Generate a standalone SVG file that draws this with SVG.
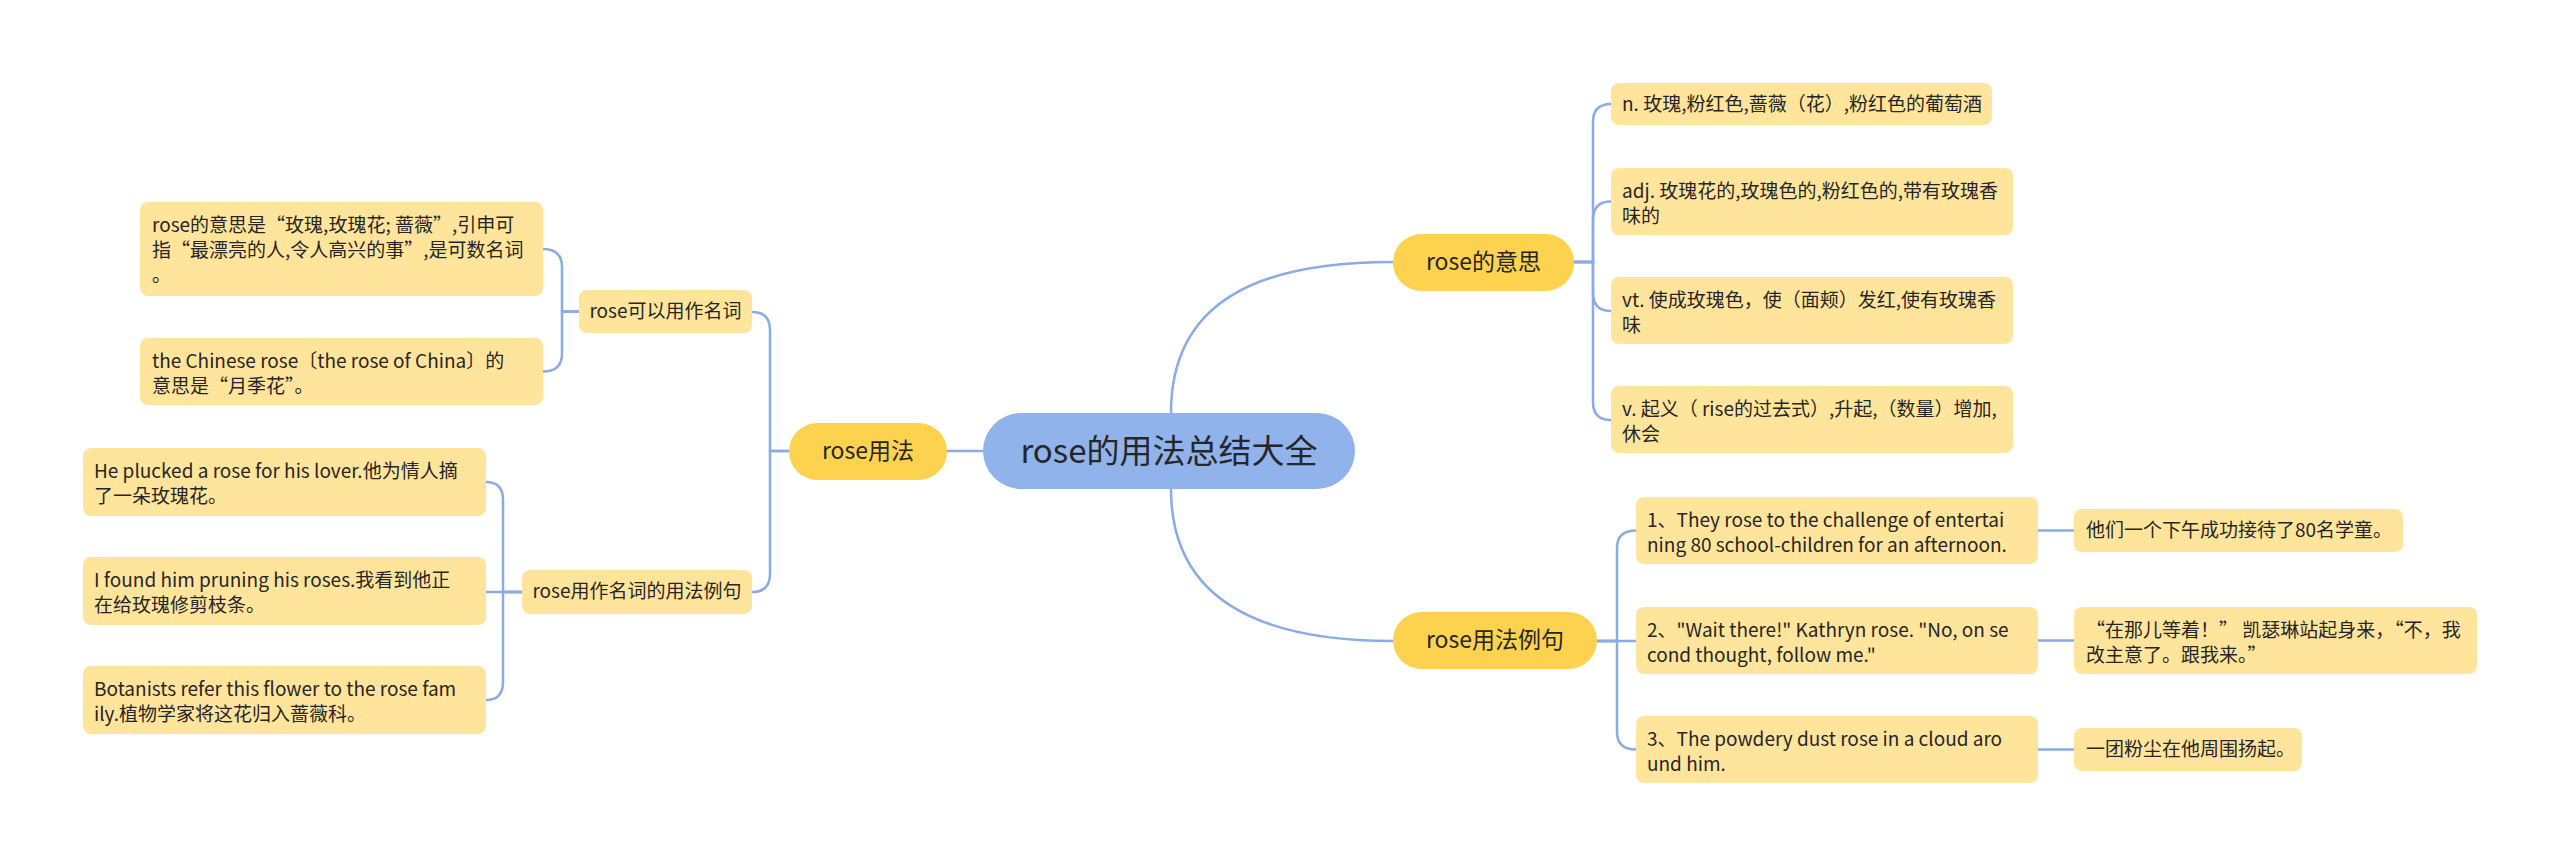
<svg xmlns="http://www.w3.org/2000/svg" width="2560" height="867" viewBox="0 0 2560 867">
<style>
text{font-family:"Noto Sans CJK SC","Noto Sans",sans-serif;fill:#262626}
.c{text-anchor:middle}
.root rect{fill:#90B3EB}
.main rect{fill:#FCD24F}
.leaf rect{fill:#FFE59B}
.t0{font-size:33px}
.t1{font-size:23px}
.t2{font-size:19px}
.lines path{fill:none;stroke:#8AACE3;stroke-width:2.5;stroke-linecap:round}
</style>
<rect width="2560" height="867" fill="#ffffff"/>
<g class="lines" id="connectors">
<path d="M1171,413 C1171,300 1260,262 1393,262"/>
<path d="M1171,489 C1171,600 1260,641 1393,641"/>
<path d="M983,451 H947"/>
<path d="M1574,262 H1593 V122 Q1593,104 1611,104"/>
<path d="M1574,262 H1593 V220 Q1593,201.5 1611,201.5"/>
<path d="M1574,262 H1593 V293 Q1593,311 1611,311"/>
<path d="M1574,262 H1593 V402 Q1593,420 1611,420"/>
<path d="M1597,641 H1617 V548 Q1617,530.5 1636,530.5"/>
<path d="M1597,641 H1636"/>
<path d="M1597,641 H1617 V732 Q1617,749.5 1636,749.5"/>
<path d="M2038,530.5 H2074"/>
<path d="M2038,640.5 H2074"/>
<path d="M2038,749.5 H2074"/>
<path d="M789,451 H770 V330 Q770,312 752,312"/>
<path d="M789,451 H770 V574 Q770,592 752,592"/>
<path d="M579,311.5 H562 V267 Q562,249 543,249"/>
<path d="M579,311.5 H562 V353.5 Q562,371.5 543,371.5"/>
<path d="M522,592 H503 V500 Q503,482 486,482"/>
<path d="M522,592 H486"/>
<path d="M522,592 H503 V682 Q503,700 486,700"/>
</g>
<g id="root" class="root"><rect x="983" y="413" width="372" height="76" rx="38"/><text class="t0 c" x="1169" y="463">rose的用法总结大全</text></g>
<g id="n-meaning" class="main"><rect x="1393" y="234" width="181" height="57" rx="28.5"/><text class="t1 c" x="1483.5" y="270">rose的意思</text></g>
<g id="n-examples" class="main"><rect x="1393" y="612" width="204" height="57" rx="28.5"/><text class="t1 c" x="1495" y="648">rose用法例句</text></g>
<g id="n-usage" class="main"><rect x="789" y="423" width="158" height="57" rx="28.5"/><text class="t1 c" x="868" y="459">rose用法</text></g>
<g id="n-noun" class="leaf"><rect x="579" y="290" width="173" height="43" rx="8"/><text class="t2 c" x="665.5" y="318">rose可以用作名词</text></g>
<g id="n-noun-ex" class="leaf"><rect x="522" y="570" width="230" height="44" rx="8"/><text class="t2 c" x="637" y="598">rose用作名词的用法例句</text></g>
<g id="m1" class="leaf"><rect x="1611" y="83" width="381" height="42" rx="8"/><text class="t2" x="1622" y="111">n. 玫瑰,粉红色,蔷薇（花）,粉红色的葡萄酒</text></g>
<g id="m2" class="leaf"><rect x="1611" y="168" width="402" height="67" rx="8"/><text class="t2" x="1622" y="198">adj. 玫瑰花的,玫瑰色的,粉红色的,带有玫瑰香<tspan x="1622" y="223">味的</tspan></text></g>
<g id="m3" class="leaf"><rect x="1611" y="277" width="402" height="67" rx="8"/><text class="t2" x="1622" y="307">vt. 使成玫瑰色，使（面颊）发红,使有玫瑰香<tspan x="1622" y="332">味</tspan></text></g>
<g id="m4" class="leaf"><rect x="1611" y="386" width="402" height="67" rx="8"/><text class="t2" x="1622" y="416">v. 起义（ rise的过去式）,升起,（数量）增加,<tspan x="1622" y="441">休会</tspan></text></g>
<g id="e1" class="leaf"><rect x="1636" y="497" width="402" height="67" rx="8"/><text class="t2" x="1647" y="527">1、They rose to the challenge of entertai<tspan x="1647" y="552">ning 80 school-children for an afternoon.</tspan></text></g>
<g id="e2" class="leaf"><rect x="1636" y="607" width="402" height="67" rx="8"/><text class="t2" x="1647" y="637">2、"Wait there!" Kathryn rose. "No, on se<tspan x="1647" y="662">cond thought, follow me."</tspan></text></g>
<g id="e3" class="leaf"><rect x="1636" y="716" width="402" height="67" rx="8"/><text class="t2" x="1647" y="746">3、The powdery dust rose in a cloud aro<tspan x="1647" y="771">und him.</tspan></text></g>
<g id="t1" class="leaf"><rect x="2074" y="509" width="329" height="43" rx="8"/><text class="t2" x="2086" y="537">他们一个下午成功接待了80名学童。</text></g>
<g id="t2" class="leaf"><rect x="2074" y="607" width="403" height="67" rx="8"/><text class="t2" x="2086" y="637">“在那儿等着！” 凯瑟琳站起身来，“不，我<tspan x="2086" y="662">改主意了。跟我来。”</tspan></text></g>
<g id="t3" class="leaf"><rect x="2074" y="728" width="228" height="43" rx="8"/><text class="t2" x="2086" y="756">一团粉尘在他周围扬起。</text></g>
<g id="a1" class="leaf"><rect x="140" y="202" width="403" height="94" rx="8"/><text class="t2" x="152" y="232">rose的意思是“玫瑰,玫瑰花; 蔷薇”,引申可<tspan x="152" y="257">指“最漂亮的人,令人高兴的事”,是可数名词</tspan><tspan x="152" y="282">。</tspan></text></g>
<g id="a2" class="leaf"><rect x="140" y="338" width="403" height="67" rx="8"/><text class="t2" x="152" y="368">the Chinese rose〔the rose of China〕的<tspan x="152" y="393">意思是“月季花”。</tspan></text></g>
<g id="b1" class="leaf"><rect x="83" y="448" width="403" height="68" rx="8"/><text class="t2" x="94" y="478">He plucked a rose for his lover.他为情人摘<tspan x="94" y="503">了一朵玫瑰花。</tspan></text></g>
<g id="b2" class="leaf"><rect x="83" y="557" width="403" height="68" rx="8"/><text class="t2" x="94" y="587">I found him pruning his roses.我看到他正<tspan x="94" y="612">在给玫瑰修剪枝条。</tspan></text></g>
<g id="b3" class="leaf"><rect x="83" y="666" width="403" height="68" rx="8"/><text class="t2" x="94" y="696">Botanists refer this flower to the rose fam<tspan x="94" y="721">ily.植物学家将这花归入蔷薇科。</tspan></text></g>
</svg>
